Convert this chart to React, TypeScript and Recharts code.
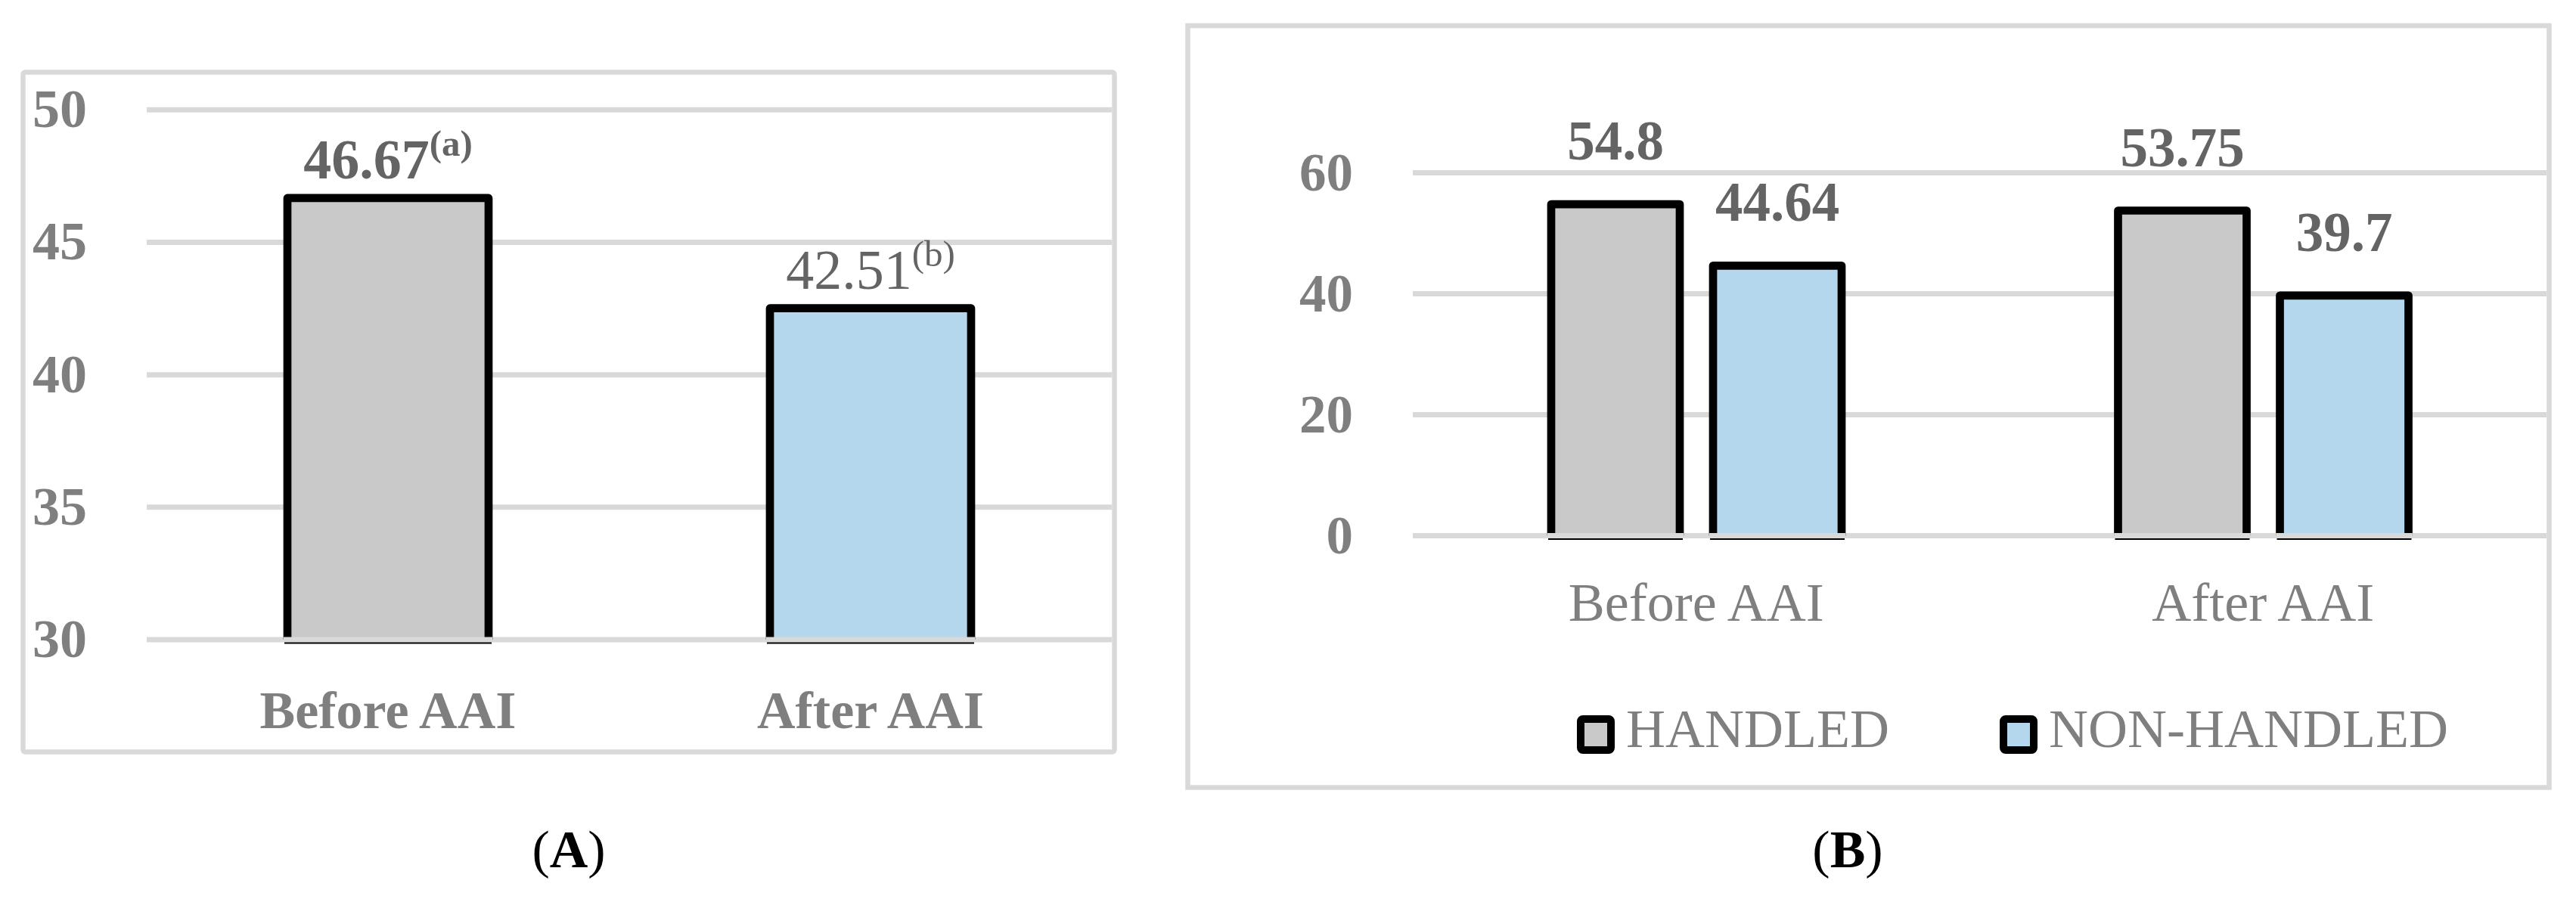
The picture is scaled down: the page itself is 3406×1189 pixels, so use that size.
import React from 'react'
import { BarChart, Bar, XAxis, YAxis, CartesianGrid, Cell, LabelList, Legend } from 'recharts'

const SERIF = "'Liberation Serif', 'Times New Roman', serif"

// values
const periods = ['Before AAI', 'After AAI']
const overallScores = [46.67, 42.51]
const overallMarks = ['(a)', '(b)']
const overallTicks = [30, 35, 40, 45, 50]
const handledScores = [54.8, 53.75]
const nonHandledScores = [44.64, 39.7]
const groupTicks = [0, 20, 40, 60]
const seriesNames = ['HANDLED', 'NON-HANDLED']
const panelCaptions = ['A', 'B']

const GREY = '#c9c9c9'
const BLUE = '#b4d7ee'
const GRID = '#d9d9d9'
const TICK = '#7f7f7f'
const VALUE = '#646464'

const overallData = periods.map((p, i) => ({ period: p, score: overallScores[i] }))
const groupData = periods.map((p, i) => ({ period: p, handled: handledScores[i], nonHandled: nonHandledScores[i] }))

// bar with black outline on three sides, baseline gridline drawn over the bottom
const OutlinedBar = (props: any) => {
  const { x, y, width, height, fill } = props
  const sw = 10.7
  const b = y + height
  return (
    <g>
      <rect x={x} y={y} width={width} height={height} fill={fill} />
      <path
        d={`M${x},${b} L${x},${y} L${x + width},${y} L${x + width},${b}`}
        fill='none'
        stroke='#000'
        strokeWidth={sw}
        strokeLinejoin='round'
      />
      <line x1={x - sw / 2} x2={x + width + sw / 2} y1={b} y2={b} stroke={GRID} strokeWidth={7} />
      <line x1={x - 4} x2={x + width + 4} y1={b + 4.5} y2={b + 4.5} stroke='#000' strokeWidth={2} />
    </g>
  )
}

const makeYTick = (weight: number, size: number) => (props: any) => {
  const { x, y, payload } = props
  return (
    <text x={x} y={y + 23} textAnchor='end' fill={TICK} fontFamily={SERIF} fontSize={size} fontWeight={weight}>
      {payload.value}
    </text>
  )
}

const makeXTick = (weight: number, size: number, drop: number) => (props: any) => {
  const { x, y, payload } = props
  return (
    <text x={x} y={y + drop} textAnchor='middle' fill={TICK} fontFamily={SERIF} fontSize={size} fontWeight={weight}>
      {payload.value}
    </text>
  )
}

const box = (p: any) => {
  const vb = p.viewBox ?? {}
  return {
    x: p.x ?? vb.x,
    y: p.y ?? vb.y,
    width: p.width ?? vb.width
  }
}

const OverallLabel = (props: any) => {
  const { x, y, width } = box(props)
  const i = props.index
  return (
    <text
      x={x + width / 2}
      y={y - 25.5}
      textAnchor='middle'
      fill={VALUE}
      fontFamily={SERIF}
      fontSize={74}
      fontWeight={i === 0 ? 700 : 400}
    >
      {props.value}
      <tspan fontSize={49} dy={-30}>
        {overallMarks[i]}
      </tspan>
    </text>
  )
}

const GroupLabel = (props: any) => {
  const { x, y, width } = box(props)
  return (
    <text x={x + width / 2} y={y - 59} textAnchor='middle' fill={VALUE} fontFamily={SERIF} fontSize={73} fontWeight={700}>
      {props.value}
    </text>
  )
}

const GroupLegend = (props: any) => {
  const payload = props.payload ?? []
  return (
    <svg width={1250} height={130} style={{ display: 'block', overflow: 'visible' }}>
      {payload.map((item: any, i: number) => (
        <g key={item.value} transform={`translate(${i * 559},30)`}>
          <rect x={10} y={21} width={40} height={41} rx={3} fill={item.color} stroke='#000' strokeWidth={10} />
          <text x={70} y={58} fill={TICK} fontFamily={SERIF} fontSize={72}>
            {item.value}
          </text>
        </g>
      ))}
    </svg>
  )
}

export default function App() {
  return (
    <div style={{ position: 'absolute', left: 0, top: 0, width: 3406, height: 1189, background: '#fff' }}>
      <svg width={3406} height={1189} style={{ position: 'absolute', left: 0, top: 0 }}>
        <rect x={30.5} y={95.5} width={1443} height={899} rx={3} fill='#fff' stroke={GRID} strokeWidth={6.5} />
        <rect x={1570.5} y={34} width={1800} height={1007.5} fill='#fff' stroke={GRID} strokeWidth={6.5} />
        {panelCaptions.map((c, i) => (
          <text key={c} x={i === 0 ? 752 : 2443} y={1147} textAnchor='middle' fill='#000' fontFamily={SERIF} fontSize={70}>
            (<tspan fontWeight={700}>{c}</tspan>)
          </text>
        ))}
      </svg>

      <div style={{ position: 'absolute', left: 0, top: 0 }}>
        <BarChart width={1500} height={1189} data={overallData} margin={{ top: 145.3, right: 30, bottom: 223, left: 0 }}>
          <CartesianGrid horizontal vertical={false} stroke={GRID} strokeWidth={7} />
          <XAxis
            dataKey='period'
            axisLine={false}
            tickLine={false}
            tickSize={0}
            tickMargin={0}
            height={120}
            interval={0}
            tick={makeXTick(700, 70, 117)}
          />
          <YAxis
            domain={[30, 50]}
            ticks={overallTicks}
            width={194}
            axisLine={false}
            tickLine={false}
            tickSize={0}
            tickMargin={79}
            tick={makeYTick(700, 72)}
          />
          <Bar dataKey='score' barSize={266} shape={OutlinedBar} isAnimationActive={false}>
            {overallData.map((d, i) => (
              <Cell key={d.period} fill={i === 0 ? GREY : BLUE} />
            ))}
            <LabelList dataKey='score' content={OverallLabel} />
          </Bar>
        </BarChart>
      </div>

      <div style={{ position: 'absolute', left: 1500, top: 0 }}>
        <BarChart
          width={1906}
          height={1189}
          data={groupData}
          barGap={44}
          margin={{ top: 228.5, right: 39, bottom: 360.5, left: 0 }}
        >
          <CartesianGrid horizontal vertical={false} stroke={GRID} strokeWidth={7} />
          <XAxis
            dataKey='period'
            axisLine={false}
            tickLine={false}
            tickSize={0}
            tickMargin={0}
            height={120}
            interval={0}
            tick={makeXTick(400, 72, 112.5)}
          />
          <YAxis
            domain={[0, 60]}
            ticks={groupTicks}
            width={368}
            axisLine={false}
            tickLine={false}
            tickSize={0}
            tickMargin={79}
            tick={makeYTick(700, 71)}
          />
          <Legend
            layout='horizontal'
            verticalAlign='middle'
            align='center'
            content={GroupLegend}
            wrapperStyle={{ left: 580, top: 900, width: 1250, height: 130 }}
          />
          <Bar dataKey='handled' name={seriesNames[0]} fill={GREY} barSize={170} shape={OutlinedBar} isAnimationActive={false}>
            <LabelList dataKey='handled' content={GroupLabel} />
          </Bar>
          <Bar dataKey='nonHandled' name={seriesNames[1]} fill={BLUE} barSize={170} shape={OutlinedBar} isAnimationActive={false}>
            <LabelList dataKey='nonHandled' content={GroupLabel} />
          </Bar>
        </BarChart>
      </div>
    </div>
  )
}
